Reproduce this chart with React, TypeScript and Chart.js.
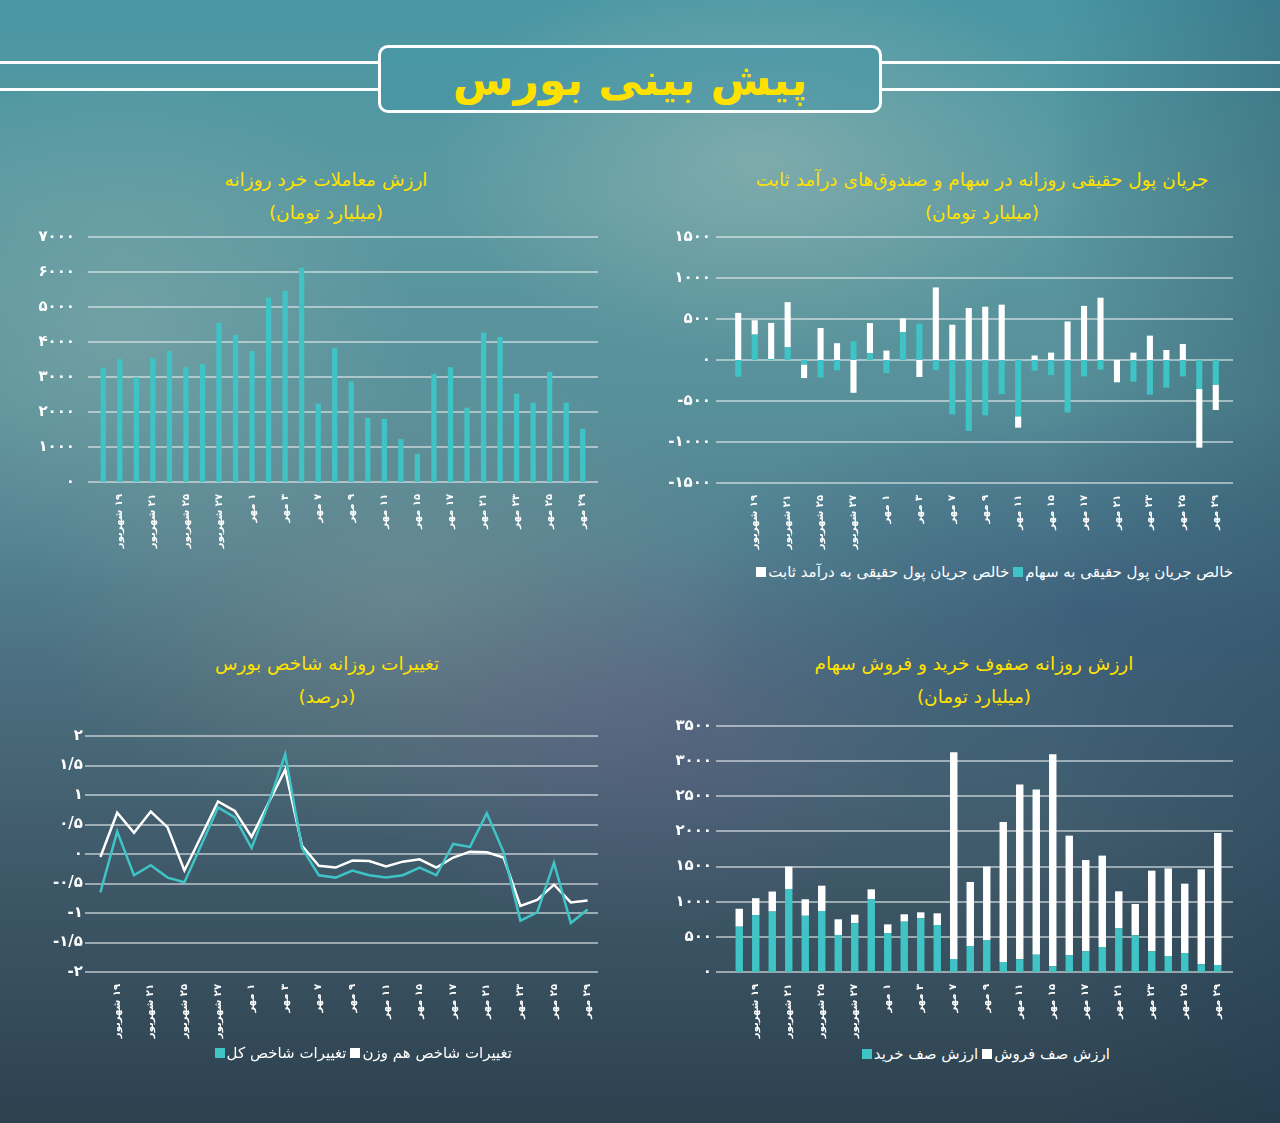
import React, { useEffect, useRef } from 'react';
import { Chart, registerables } from 'chart.js';
Chart.register(...registerables);

const TEAL = '#3fc3c5';
const WHITE = '#ffffff';
const YELLOW = '#ffe100';
const FONT = '"DejaVu Sans", "Noto Sans", sans-serif';
Chart.defaults.font.family = FONT;

// ---- data ----
const dates = ['۱۸ شهریور', '۱۹ شهریور', '۲۰ شهریور', '۲۱ شهریور', '۲۴ شهریور', '۲۵ شهریور', '۲۶ شهریور', '۲۷ شهریور', '۳۱ شهریور', '۱ مهر', '۲ مهر', '۳ مهر', '۶ مهر', '۷ مهر', '۸ مهر', '۹ مهر', '۱۰ مهر', '۱۱ مهر', '۱۴ مهر', '۱۵ مهر', '۱۶ مهر', '۱۷ مهر', '۱۸ مهر', '۲۱ مهر', '۲۲ مهر', '۲۳ مهر', '۲۴ مهر', '۲۵ مهر', '۲۸ مهر', '۲۹ مهر'];

const retailValue = [3270, 3510, 2990, 3540, 3740, 3280, 3370, 4550, 4210, 3740, 5275, 5455, 6130, 2240, 3830, 2875, 1830, 1800, 1225, 800, 3090, 3280, 2125, 4270, 4145, 2525, 2270, 3150, 2270, 1520];

const flowStocks = [-205, 310, 12, 155, -55, -215, -125, 228, 85, -160, 337, 443, -125, -665, -865, -675, -415, -687, -130, -183, -640, -200, -118, 0, -265, -423, -337, -200, -354, -300];
const flowFixedIncome = [575, 175, 440, 550, -165, 390, 205, -400, 365, 115, 170, -207, 885, 430, 635, 650, 675, -138, 55, 90, 470, 660, 760, -272, 90, 297, 122, 195, -715, -310];

const buyQueue = [645, 810, 860, 1180, 800, 868, 527, 693, 1034, 555, 716, 764, 669, 185, 370, 455, 142, 180, 247, 81, 237, 294, 356, 621, 522, 294, 228, 270, 109, 100];
const sellQueue = [255, 240, 285, 320, 235, 360, 223, 123, 142, 123, 105, 85, 166, 2940, 911, 1045, 1993, 2486, 2348, 3017, 1703, 1300, 1300, 527, 446, 1148, 1247, 987, 1352, 1878];

const totalIndexChange = [-0.65, 0.38, -0.36, -0.19, -0.40, -0.48, 0.15, 0.79, 0.62, 0.10, 0.85, 1.69, 0.10, -0.36, -0.40, -0.28, -0.36, -0.40, -0.36, -0.23, -0.36, 0.17, 0.12, 0.69, 0.03, -1.13, -0.99, -0.15, -1.17, -0.94];
const equalIndexChange = [-0.05, 0.70, 0.36, 0.72, 0.45, -0.28, 0.30, 0.89, 0.73, 0.29, 0.86, 1.43, 0.14, -0.20, -0.23, -0.11, -0.12, -0.21, -0.13, -0.09, -0.23, -0.06, 0.04, 0.03, -0.06, -0.88, -0.78, -0.52, -0.82, -0.79];

const LBL_STOCKS = 'خالص جریان پول حقیقی به سهام';
const LBL_FIXED = 'خالص جریان پول حقیقی به درآمد ثابت';
const LBL_BUY = 'ارزش صف خرید';
const LBL_SELL = 'ارزش صف فروش';
const LBL_TOTAL = 'تغییرات شاخص کل';
const LBL_EQUAL = 'تغییرات شاخص هم وزن';

// ---- helpers ----
const faDigits = (s: string) => s.replace(/\d/g, (d) => '۰۱۲۳۴۵۶۷۸۹'[+d]);
const fmtNum = (v: number) => {
  const n = Number(Number(v).toFixed(2));
  const abs = faDigits(String(Math.abs(n))).replace('.', '/');
  return (n < 0 ? '-' : '') + abs;
};

const wideGrid = {
  id: 'wideGrid',
  beforeDatasetsDraw(chart: any, _args: any, opts: any) {
    const { ctx, chartArea } = chart;
    const y = chart.scales.y;
    ctx.save();
    ctx.strokeStyle = opts.color;
    ctx.lineWidth = opts.width;
    y.ticks.forEach((_t: any, i: number) => {
      const py = Math.round(y.getPixelForTick(i));
      ctx.beginPath();
      ctx.moveTo(chartArea.left - opts.left, py);
      ctx.lineTo(chartArea.right + opts.right, py);
      ctx.stroke();
    });
    ctx.restore();
  },
};

type Box = { l: number; t: number; w: number; h: number };
type Area = { left: number; right: number; top: number; bottom: number };

function baseOptions(box: Box, area: Area, y: { min: number; max: number; step: number; pad: number }, ext: { left: number; right: number }, stacked: boolean) {
  return {
    responsive: false,
    animation: false,
    devicePixelRatio: 1,
    layout: { padding: { left: 0, right: box.l + box.w - area.right, top: area.top - box.t, bottom: 0 } },
    plugins: {
      legend: { display: false },
      tooltip: { enabled: false },
      wideGrid: { left: ext.left, right: ext.right, color: 'rgba(235,240,240,0.55)', width: 2 },
    },
    scales: {
      x: {
        stacked,
        offset: true,
        grid: { display: false },
        border: { display: false },
        afterFit: (s: any) => { s.height = box.t + box.h - area.bottom; },
        ticks: {
          autoSkip: false,
          maxRotation: 90,
          minRotation: 90,
          padding: 4,
          color: WHITE,
          font: { size: 10, weight: 'bold' },
          callback: (_v: any, i: number) => (i % 2 === 1 ? '\u200F' + dates[i] : ''),
        },
      },
      y: {
        stacked,
        min: y.min,
        max: y.max,
        grid: { display: false, drawTicks: false },
        border: { display: false },
        afterFit: (s: any) => {
          s.width = area.left - box.l;
          s.paddingTop = 6;
          s.paddingBottom = 6;
        },
        ticks: {
          stepSize: y.step,
          padding: y.pad,
          color: WHITE,
          font: { size: 15, weight: 'bold' },
          callback: (v: any) => fmtNum(v),
        },
      },
    },
  };
}

function ChartCanvas({ box, make }: { box: Box; make: () => any }) {
  const ref = useRef<HTMLCanvasElement>(null);
  useEffect(() => {
    const chart = new Chart(ref.current as HTMLCanvasElement, make());
    return () => chart.destroy();
  }, []);
  return (
    <canvas
      ref={ref}
      width={box.w}
      height={box.h}
      style={{ position: 'absolute', left: box.l, top: box.t, width: box.w, height: box.h }}
    />
  );
}

function Title({ cx, top, lines }: { cx: number; top: number; lines: string[] }) {
  return (
    <div
      dir="rtl"
      style={{ position: 'absolute', left: cx - 320, top, width: 640, textAlign: 'center', color: YELLOW, fontFamily: FONT, fontSize: 18.5, lineHeight: '33px' }}
    >
      {lines.map((l, i) => (
        <div key={i}>{l}</div>
      ))}
    </div>
  );
}

function Legend({ items, style }: { items: { label: string; color: string }[]; style: React.CSSProperties }) {
  return (
    <div dir="rtl" style={{ position: 'absolute', display: 'flex', alignItems: 'center', color: WHITE, fontFamily: FONT, fontSize: 15, whiteSpace: 'nowrap', ...style }}>
      {items.map((it, i) => (
        <div key={i} style={{ display: 'flex', alignItems: 'center', marginLeft: 4 }}>
          <span>{it.label}</span>
          <span style={{ display: 'inline-block', width: 10, height: 10, background: it.color, marginRight: 2 }} />
        </div>
      ))}
    </div>
  );
}

// ---- layout boxes ----
const box1: Box = { l: 20, t: 220, w: 600, h: 340 };
const area1: Area = { left: 95, right: 591, top: 237, bottom: 482 };
const box2: Box = { l: 650, t: 220, w: 600, h: 340 };
const area2: Area = { left: 730, right: 1224, top: 237, bottom: 483 };
const box3: Box = { l: 650, t: 705, w: 600, h: 335 };
const area3: Area = { left: 731, right: 1226, top: 726, bottom: 972 };
const box4: Box = { l: 20, t: 715, w: 600, h: 330 };
const area4: Area = { left: 92, right: 596, top: 736, bottom: 972 };

const makeRetail = () => ({
  type: 'bar',
  data: {
    labels: dates,
    datasets: [{ data: retailValue, backgroundColor: TEAL, barPercentage: 0.32, categoryPercentage: 1 }],
  },
  options: baseOptions(box1, area1, { min: 0, max: 7000, step: 1000, pad: 20 }, { left: 7, right: 7 }, false),
  plugins: [wideGrid],
});

const makeFlow = () => ({
  type: 'bar',
  data: {
    labels: dates,
    datasets: [
      { label: LBL_STOCKS, data: flowStocks, backgroundColor: TEAL, barPercentage: 0.37, categoryPercentage: 1 },
      { label: LBL_FIXED, data: flowFixedIncome, backgroundColor: WHITE, barPercentage: 0.37, categoryPercentage: 1 },
    ],
  },
  options: baseOptions(box2, area2, { min: -1500, max: 1500, step: 500, pad: 19 }, { left: 14, right: 9 }, true),
  plugins: [wideGrid],
});

const makeQueue = () => ({
  type: 'bar',
  data: {
    labels: dates,
    datasets: [
      { label: LBL_BUY, data: buyQueue, backgroundColor: TEAL, barPercentage: 0.45, categoryPercentage: 1 },
      { label: LBL_SELL, data: sellQueue, backgroundColor: WHITE, barPercentage: 0.45, categoryPercentage: 1 },
    ],
  },
  options: baseOptions(box3, area3, { min: 0, max: 3500, step: 500, pad: 19 }, { left: 15, right: 7 }, true),
  plugins: [wideGrid],
});

const makeIndex = () => ({
  type: 'line',
  data: {
    labels: dates,
    datasets: [
      { label: LBL_TOTAL, data: totalIndexChange, borderColor: TEAL, borderWidth: 2.5, pointRadius: 0, tension: 0 },
      { label: LBL_EQUAL, data: equalIndexChange, borderColor: WHITE, borderWidth: 2.5, pointRadius: 0, tension: 0 },
    ],
  },
  options: baseOptions(box4, area4, { min: -2, max: 2, step: 0.5, pad: 9 }, { left: 7, right: 2 }, false),
  plugins: [wideGrid],
});

const BG = [
  'radial-gradient(ellipse 330px 200px at 760px 160px, rgba(205,210,195,0.33), transparent)',
  'radial-gradient(ellipse 300px 260px at 120px 330px, rgba(175,195,185,0.28), transparent)',
  'radial-gradient(ellipse 400px 230px at 1080px 610px, rgba(30,55,100,0.35), transparent)',
  'radial-gradient(ellipse 300px 200px at 640px 730px, rgba(115,95,140,0.35), transparent)',
  'radial-gradient(ellipse 360px 240px at 400px 600px, rgba(160,160,150,0.28), transparent)',
  'linear-gradient(90deg, rgba(0,0,0,0) 82%, rgba(20,50,75,0.28) 100%)',
  'linear-gradient(180deg, #4a97a4 0%, #5a98a0 18%, #58909a 36%, #52808f 50%, #4a6c7c 62%, #3e5868 78%, #2d414f 100%)',
].join(',');

export default function App() {
  return (
    <div style={{ position: 'absolute', left: 0, top: 0, width: 1280, height: 1123, overflow: 'hidden', background: BG, fontFamily: FONT }}>
      {/* header */}
      <div style={{ position: 'absolute', left: 0, top: 61, width: 380, height: 3, background: WHITE }} />
      <div style={{ position: 'absolute', left: 0, top: 88, width: 380, height: 3, background: WHITE }} />
      <div style={{ position: 'absolute', left: 880, top: 61, width: 400, height: 3, background: WHITE }} />
      <div style={{ position: 'absolute', left: 880, top: 88, width: 400, height: 3, background: WHITE }} />
      <div
        dir="rtl"
        style={{
          position: 'absolute', left: 378, top: 45, width: 504, height: 68, boxSizing: 'border-box',
          border: '3px solid #ffffff', borderRadius: 10, background: 'rgba(70,150,165,0.55)',
          display: 'flex', alignItems: 'center', justifyContent: 'center',
          color: YELLOW, fontWeight: 'bold', fontSize: 44, fontFamily: FONT,
        }}
      >
        پیش بینی بورس
      </div>

      <Title cx={326} top={163} lines={['ارزش معاملات خرد روزانه', '(میلیارد تومان)']} />
      <Title cx={982} top={163} lines={['جریان پول حقیقی روزانه در سهام و صندوق‌های درآمد ثابت', '(میلیارد تومان)']} />
      <Title cx={974} top={647} lines={['ارزش روزانه صفوف خرید و فروش سهام', '(میلیارد تومان)']} />
      <Title cx={327} top={647} lines={['تغییرات روزانه شاخص بورس', '(درصد)']} />

      <ChartCanvas box={box1} make={makeRetail} />
      <ChartCanvas box={box2} make={makeFlow} />
      <ChartCanvas box={box3} make={makeQueue} />
      <ChartCanvas box={box4} make={makeIndex} />

      <Legend
        items={[{ label: LBL_STOCKS, color: TEAL }, { label: LBL_FIXED, color: WHITE }]}
        style={{ right: 1280 - 1233, top: 563 }}
      />
      <Legend
        items={[{ label: LBL_SELL, color: WHITE }, { label: LBL_BUY, color: TEAL }]}
        style={{ right: 1280 - 1110, top: 1045 }}
      />
      <Legend
        items={[{ label: LBL_EQUAL, color: WHITE }, { label: LBL_TOTAL, color: TEAL }]}
        style={{ right: 1280 - 512, top: 1044 }}
      />
    </div>
  );
}
